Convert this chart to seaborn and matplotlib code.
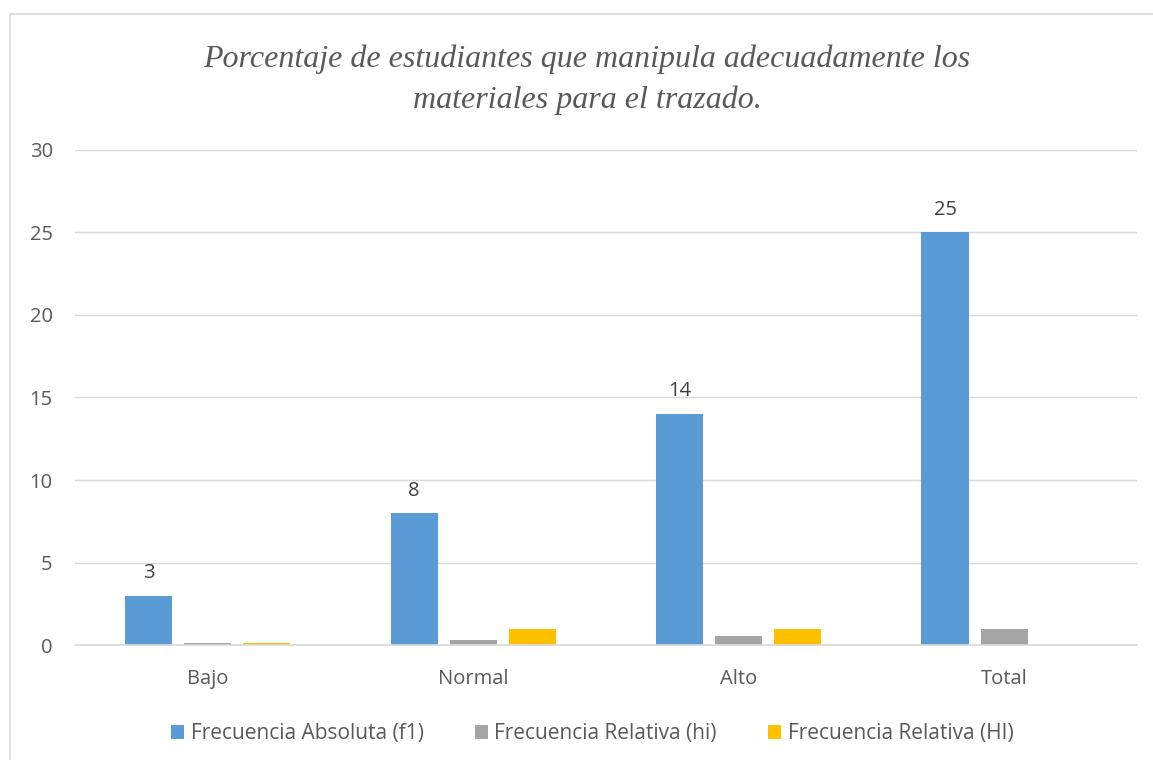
import numpy as np
import pandas as pd
import matplotlib.pyplot as plt
import seaborn as sns
from matplotlib.patches import Rectangle

# values
categorias = ['Bajo', 'Normal', 'Alto', 'Total']
series = ['Frecuencia Absoluta (f1)', 'Frecuencia Relativa (hi)', 'Frecuencia Relativa (HI)']
f1 = [3, 8, 14, 25]
hi = [0.12, 0.32, 0.56, 1.0]
HI = [0.12, 1.0, 1.0, np.nan]
colores = ['#5B9BD5', '#A5A5A5', '#FFC000']

df = pd.DataFrame({
    'categoria': categorias * 3,
    'serie': [series[0]] * 4 + [series[1]] * 4 + [series[2]] * 4,
    'valor': f1 + hi + HI,
})

sns.set_theme(style='white')
plt.rcParams['font.family'] = ['Open Sans', 'DejaVu Sans']
txt = '#595959'

fig = plt.figure(figsize=(11.53, 7.6), dpi=100)
ax = fig.add_axes([0.065, 0.151, 0.921, 0.652])

sns.barplot(data=df.dropna(), x='categoria', y='valor', hue='serie',
            order=categorias, hue_order=series, palette=colores,
            saturation=1, linewidth=0,
            width=0.667, gap=0.2, errorbar=None, ax=ax, legend=True)

ax.set_ylim(0, 30)
ax.set_xlim(-0.5, 3.5)
ax.set_yticks(range(0, 31, 5))
ax.yaxis.grid(True, color='#D9D9D9', linewidth=1)
ax.set_axisbelow(True)
for s in ['top', 'right', 'left']:
    ax.spines[s].set_visible(False)
ax.spines['bottom'].set_color('#D9D9D9')
ax.spines['bottom'].set_linewidth(1.2)
ax.tick_params(axis='both', length=0, labelsize=14.5, labelcolor=txt)
ax.tick_params(axis='y', pad=16)
ax.tick_params(axis='x', pad=17)
ax.set_xlabel('')
ax.set_ylabel('')

# data labels on the absolute frequency bars
ax.bar_label(ax.containers[0], labels=[str(v) for v in f1],
             padding=9, fontsize=14.5, color='#404040')

ax.legend(loc='upper center', bbox_to_anchor=(0.487, -0.12), ncol=3,
          frameon=False, fontsize=15, labelcolor=txt, handlelength=0.65,
          handleheight=0.65, handletextpad=0.3, columnspacing=2.45)

fig.suptitle('Porcentaje de estudiantes que manipula adecuadamente los\nmateriales para el trazado.',
             x=0.509, y=0.942, fontsize=23, style='italic', color=txt,
             family='Liberation Serif', linespacing=1.53)

fig.patches.append(Rectangle((10 / 1153, -0.01), 1.0, (760 - 14) / 760 + 0.01,
                             transform=fig.transFigure, fill=False,
                             edgecolor='#D9D9D9', linewidth=1.2))

fig.savefig('out.png', dpi=100)
